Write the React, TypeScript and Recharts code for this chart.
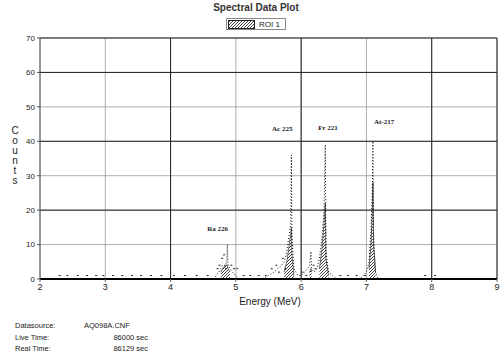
import React from "react";
import {
  Area,
  CartesianGrid,
  ComposedChart,
  Line,
  ReferenceDot,
  ReferenceLine,
  Scatter,
  XAxis,
  YAxis
} from "recharts";

// spectrum channels around the peaks (MeV, counts)
const energies = [
  4.66, 4.7, 4.74, 4.77, 4.8, 4.84, 4.86, 4.87, 4.88, 4.91, 4.95, 5.0, 5.05,
  5.4, 5.5, 5.58, 5.64, 5.7, 5.74, 5.78, 5.81, 5.84, 5.85, 5.86, 5.89, 5.95, 6.0, 6.05, 6.1, 6.13, 6.15, 6.16, 6.2,
  6.24, 6.28, 6.32, 6.35, 6.37, 6.38, 6.42, 6.48, 6.55,
  6.9, 6.95, 7.0, 7.04, 7.07, 7.09, 7.1, 7.11, 7.14, 7.18
];
const counts = [
  0, 1, 2, 3, 4, 4, 5, 10, 4, 3, 2, 1, 0,
  0, 1, 2, 3, 4, 5, 8, 12, 16, 36, 12, 3, 1, 1, 2, 3, 4, 8, 3, 2,
  3, 6, 12, 20, 39, 8, 2, 1, 0,
  0, 1, 2, 5, 14, 26, 40, 12, 2, 0
];
// hatched region of interest
const roi = [
  null, null, null, 2, 3, 4, 4, 4, 3, 2, null, null, null,
  null, null, null, null, null, 2, 5, 9, 13, 15, 7, 1, null, null, null, null, 2, 3, 2, null,
  null, 3, 9, 16, 22, 6, 1, null, null,
  null, null, null, 3, 10, 20, 28, 10, 2, null
];

// isolated low channels
const bgEnergy = [
  2.3, 2.42, 2.58, 2.72, 2.86, 2.97, 3.12, 3.26, 3.41, 3.55, 3.7, 3.86, 4.05, 4.22, 4.4, 4.57,
  4.72, 4.75, 4.79, 4.82, 4.85, 4.93, 4.97, 5.02, 5.12, 5.22, 5.35, 5.46, 5.55, 5.62, 5.66, 5.72, 5.76,
  6.02, 6.08, 6.19, 6.22, 6.6, 6.72, 6.85, 6.98, 7.9, 8.05
];
const bgCounts = [
  1, 1, 1, 1, 1, 1, 1, 1, 1, 1, 1, 1, 1, 1, 1, 1,
  3, 4, 6, 7, 3, 4, 3, 3, 1, 1, 1, 1, 3, 4, 2, 6, 3,
  2, 1, 4, 3, 1, 1, 1, 1, 1, 1
];

const annLabels = ["Ra 226", "Ac 225", "Fr 221", "At-217"];
const annEnergy = [4.72, 5.71, 6.41, 7.27];
const annCount = [14.8, 43.6, 44, 45.6];

const xTicks = [2, 3, 4, 5, 6, 7, 8, 9];
const yTicks = [0, 10, 20, 30, 40, 50, 60, 70];

const table = energies.map((e, i) => ({ e, counts: counts[i], roi: roi[i] }));
const bg = bgEnergy.map((e, i) => ({ e, c: bgCounts[i] }));

const sans = "'Liberation Sans', Arial, sans-serif";
const serif = "'Liberation Serif', 'DejaVu Serif', serif";

const Hatch = ({ id }: { id: string }) => (
  <pattern id={id} patternUnits="userSpaceOnUse" width={3} height={3}>
    <path d="M-1,1 L1,-1 M0,3 L3,0 M2,4 L4,2" stroke="#111" strokeWidth={0.8} />
  </pattern>
);

const Dash = (p: any) => <rect x={p.cx - 1} y={p.cy - 0.5} width={2} height={1} fill="#222" />;

export default function App() {
  return (
    <div style={{ position: "absolute", left: 0, top: 0, width: 504, height: 356, background: "#fff", fontFamily: sans }}>
      <div style={{ position: "absolute", left: 0, width: 512, top: 2, textAlign: "center", fontSize: 10, fontWeight: "bold", color: "#333" }}>
        Spectral Data Plot
      </div>
      <div style={{ position: "absolute", left: 226, top: 18, width: 60, height: 12, border: "1px solid #888", boxSizing: "border-box", display: "flex", alignItems: "center", fontSize: 8, color: "#222" }}>
        <svg width={28} height={9} style={{ marginLeft: 1 }}>
          <defs><Hatch id="hatchLegend" /></defs>
          <rect x={0.5} y={0.5} width={26} height={8} fill="url(#hatchLegend)" stroke="#222" />
        </svg>
        <span style={{ marginLeft: 3 }}>ROI 1</span>
      </div>
      <div style={{ position: "absolute", left: 9, top: 126, width: 12, fontSize: 10, lineHeight: "10px", textAlign: "center", color: "#222" }}>
        {"Counts".split("").map((ch, i) => <div key={i}>{ch}</div>)}
      </div>
      <div style={{ position: "absolute", top: 0, left: 0 }}>
        <ComposedChart width={504} height={300} data={table} margin={{ top: 38, right: 7, bottom: 1, left: 0 }}>
          <defs><Hatch id="hatch" /></defs>
          <CartesianGrid stroke="#999" strokeWidth={0.8} />
          {[20, 40, 60, 70].map((v) => <ReferenceLine key={"h" + v} y={v} stroke="#222" strokeWidth={1} />)}
          {[4, 6, 8, 9].map((v) => <ReferenceLine key={"v" + v} x={v} stroke="#222" strokeWidth={1} />)}
          <XAxis
            dataKey="e"
            type="number"
            domain={[2, 9]}
            ticks={xTicks}
            allowDataOverflow
            height={20}
            tickSize={3}
            axisLine={{ stroke: "#000", strokeWidth: 2 }}
            tickLine={{ stroke: "#666" }}
            tick={{ fill: "#222", fontSize: 9, fontFamily: sans }}
          />
          <YAxis
            type="number"
            domain={[0, 70]}
            ticks={yTicks}
            width={40}
            tickSize={3}
            axisLine={{ stroke: "#555" }}
            tickLine={{ stroke: "#555" }}
            tick={{ fill: "#222", fontSize: 8, fontFamily: sans }}
          />
          <Area dataKey="roi" type="linear" stroke="#111" strokeWidth={0.6} fill="url(#hatch)" fillOpacity={1} connectNulls={false} isAnimationActive={false} />
          <Line dataKey="counts" type="linear" stroke="#111" strokeWidth={1} strokeDasharray="1 2" dot={false} isAnimationActive={false} />
          <Scatter data={bg} dataKey="c" shape={Dash} isAnimationActive={false} />
          {annLabels.map((t, i) => (
            <ReferenceDot
              key={t}
              x={annEnergy[i]}
              y={annCount[i]}
              r={0}
              stroke="none"
              label={{ value: t, position: "center", fill: "#222", fontSize: 7, fontFamily: serif, fontWeight: "bold" }}
            />
          ))}
        </ComposedChart>
      </div>
      <div style={{ position: "absolute", left: 0, width: 540, top: 296, textAlign: "center", fontSize: 10, color: "#222" }}>
        Energy (MeV)
      </div>
      <div style={{ position: "absolute", left: 15, top: 320, fontSize: 7.5, lineHeight: "11.5px", color: "#222" }}>
        <div>Datasource:</div>
        <div>Live Time:</div>
        <div>Real Time:</div>
      </div>
      <div style={{ position: "absolute", left: 84, width: 64, top: 320, fontSize: 7.5, lineHeight: "11.5px", color: "#222", textAlign: "right" }}>
        <div style={{ textAlign: "left" }}>AQ098A.CNF</div>
        <div>86000 sec</div>
        <div>86129 sec</div>
      </div>
    </div>
  );
}
